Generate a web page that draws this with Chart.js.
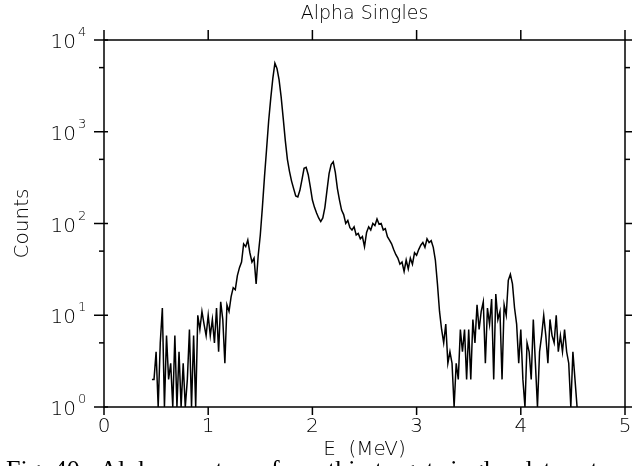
<!DOCTYPE html>
<html>
<head>
<meta charset="utf-8">
<script src="https://cdn.jsdelivr.net/npm/chart.js@4.4.1/dist/chart.umd.min.js"></script>
<style>
  html, body { margin: 0; padding: 0; background: #fff; overflow: hidden; }
  canvas { display: block; }
</style>
</head>
<body>
<canvas id="spectrum" width="632" height="466"></canvas>
<script>
// energy of each channel (MeV)
const energies = [
  0.46, 0.48, 0.50, 0.52, 0.54, 0.56, 0.58, 0.60, 0.62, 0.64, 0.66, 0.68, 0.70, 0.72, 0.74, 0.76, 0.78, 0.80, 0.82, 0.84,
  0.86, 0.88, 0.90, 0.92, 0.94, 0.96, 0.98, 1.00, 1.02, 1.04, 1.06, 1.08, 1.10, 1.12, 1.14, 1.16, 1.18, 1.20, 1.22, 1.24,
  1.26, 1.28, 1.30, 1.32, 1.34, 1.36, 1.38, 1.40, 1.42, 1.44, 1.46, 1.48, 1.50, 1.52, 1.54, 1.56, 1.58, 1.60, 1.62, 1.64,
  1.66, 1.68, 1.70, 1.72, 1.74, 1.76, 1.78, 1.80, 1.82, 1.84, 1.86, 1.88, 1.90, 1.92, 1.94, 1.96, 1.98, 2.00, 2.02, 2.04,
  2.06, 2.08, 2.10, 2.12, 2.14, 2.16, 2.18, 2.20, 2.22, 2.24, 2.26, 2.28, 2.30, 2.32, 2.34, 2.36, 2.38, 2.40, 2.42, 2.44,
  2.46, 2.48, 2.50, 2.52, 2.54, 2.56, 2.58, 2.60, 2.62, 2.64, 2.66, 2.68, 2.70, 2.72, 2.74, 2.76, 2.78, 2.80, 2.82, 2.84,
  2.86, 2.88, 2.90, 2.92, 2.94, 2.96, 2.98, 3.00, 3.02, 3.04, 3.06, 3.08, 3.10, 3.12, 3.14, 3.16, 3.18, 3.20, 3.22, 3.24,
  3.26, 3.28, 3.30, 3.32, 3.34, 3.36, 3.38, 3.40, 3.42, 3.44, 3.46, 3.48, 3.50, 3.52, 3.54, 3.56, 3.58, 3.60, 3.62, 3.64,
  3.66, 3.68, 3.70, 3.72, 3.74, 3.76, 3.78, 3.80, 3.82, 3.84, 3.86, 3.88, 3.90, 3.92, 3.94, 3.96, 3.98, 4.00, 4.02, 4.04,
  4.06, 4.08, 4.10, 4.12, 4.14, 4.16, 4.18, 4.20, 4.22, 4.24, 4.26, 4.28, 4.30, 4.32, 4.34, 4.36, 4.38, 4.40, 4.42, 4.44,
  4.46, 4.48, 4.50, 4.52, 4.54
];

// counts per channel
const counts = [
  2, 2, 4, 1, 5, 12, 1, 6, 2, 3, 1, 6, 1, 4, 1, 3, 1, 2, 7, 1,
  6, 1, 10, 7, 11, 8, 6, 10, 6, 9, 5, 12, 4, 14, 9, 3, 13, 11, 16, 20,
  19, 27, 33, 38, 60, 56, 66, 48, 38, 42, 22, 45, 75, 150, 320, 640, 1300, 2300, 3800, 5600,
  4900, 3700, 2400, 1400, 800, 500, 370, 290, 240, 200, 195, 230, 300, 400, 410, 340, 250, 180, 150, 130,
  115, 105, 115, 150, 230, 350, 440, 470, 360, 240, 180, 140, 125, 100, 108, 90, 85, 92, 75, 78,
  68, 72, 56, 80, 92, 85, 100, 95, 112, 98, 100, 85, 88, 72, 66, 60, 52, 46, 42, 36,
  38, 30, 40, 32, 42, 36, 48, 45, 52, 58, 62, 55, 68, 62, 65, 55, 40, 22, 11, 7,
  5, 8, 3, 4, 3, 1, 3, 2, 7, 4, 7, 2, 7, 2, 9, 5, 13, 7, 11, 14,
  3, 12, 8, 15, 2, 17, 9, 11, 2, 13, 10, 24, 28, 22, 12, 8, 3, 7, 2, 1,
  5, 4, 2, 9, 3, 1, 4, 6, 10, 6, 3, 9, 6, 5, 10, 4, 6, 4, 7, 4,
  3, 1, 4, 2, 1
];

const xTicks = [0, 1, 2, 3, 4, 5];
const yDecades = [1, 10, 100, 1000, 10000];
const yExponents = ['0', '1', '2', '3', '4'];
const yMinor = [5, 50, 500, 5000];

const titleText = 'Alpha Singles';
const xTitle = 'E  (MeV)';
const yTitle = 'Counts';
const caption = 'Fig. 40.  Alpha spectrum from thin target singles data set';

const FONT = '"DejaVu Sans", "Liberation Sans", sans-serif';

// frame, ticks and all the labels, placed from the chart's own scales
const frame = {
  id: 'frame',
  afterDraw(chart) {
    const { ctx, chartArea: a, scales: { x, y } } = chart;
    const line = (x1, y1, x2, y2) => {
      ctx.beginPath(); ctx.moveTo(x1, y1); ctx.lineTo(x2, y2); ctx.stroke();
    };
    ctx.save();
    ctx.strokeStyle = '#000';
    ctx.fillStyle = '#000';
    ctx.lineWidth = 1.5;
    ctx.strokeRect(a.left, a.top, a.right - a.left, a.bottom - a.top);

    xTicks.forEach(v => {
      const px = x.getPixelForValue(v);
      line(px, a.bottom, px, a.bottom + 8);
      line(px, a.top, px, a.top - 10);
    });
    yDecades.forEach(v => {
      const py = y.getPixelForValue(v);
      line(a.left - 10, py, a.left + 4, py);
      line(a.right, py, a.right + 8, py);
    });
    yMinor.forEach(v => {
      const py = y.getPixelForValue(v);
      line(a.left - 5, py, a.left, py);
      line(a.right, py, a.right + 5, py);
    });

    ctx.font = '200 20px ' + FONT;
    ctx.textAlign = 'center';
    ctx.textBaseline = 'alphabetic';
    xTicks.forEach(v => {
      ctx.fillText(String(v), x.getPixelForValue(v), a.bottom + 25);
    });

    yDecades.forEach((v, i) => {
      const py = y.getPixelForValue(v);
      ctx.font = '200 20px ' + FONT;
      ctx.textAlign = 'right';
      ctx.fillText('10', a.left - 28, py + 8);
      ctx.font = '200 13px ' + FONT;
      ctx.textAlign = 'left';
      ctx.fillText(yExponents[i], a.left - 26, py - 4);
    });

    const cx = (a.left + a.right) / 2;
    ctx.font = '200 19px ' + FONT;
    ctx.textAlign = 'center';
    ctx.fillText(titleText, cx, a.top - 21);
    ctx.font = '200 20px ' + FONT;
    ctx.fillText(xTitle, cx, a.bottom + 48);
    ctx.save();
    ctx.translate(a.left - 76, (a.top + a.bottom) / 2);
    ctx.rotate(-Math.PI / 2);
    ctx.fillText(yTitle, 0, 0);
    ctx.restore();

    // figure caption, cut by the page edge
    ctx.font = '26px "Liberation Serif", serif';
    ctx.textAlign = 'left';
    ctx.fillText(caption, 6, chart.height + 12);
    ctx.restore();
  }
};

new Chart(document.getElementById('spectrum'), {
  type: 'line',
  data: {
    datasets: [{
      data: energies.map((e, i) => ({ x: e, y: counts[i] })),
      borderColor: '#000',
      borderWidth: 1.5,
      pointRadius: 0,
      tension: 0,
      fill: false
    }]
  },
  options: {
    responsive: false,
    animation: false,
    layout: { padding: { left: 104, right: 7, top: 40, bottom: 59 } },
    plugins: { legend: { display: false }, tooltip: { enabled: false } },
    scales: {
      x: { type: 'linear', min: 0, max: 5, display: false },
      y: { type: 'logarithmic', min: 1, max: 10000, display: false }
    }
  },
  plugins: [frame]
});
</script>
</body>
</html>
